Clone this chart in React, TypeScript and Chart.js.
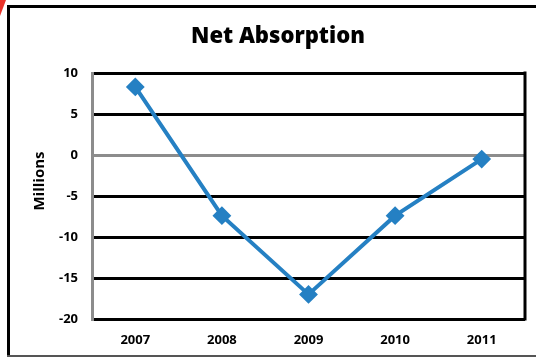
import React, { useEffect, useRef } from "react";
import { Chart, registerables } from "chart.js";

Chart.register(...registerables);

const categories = ["2007", "2008", "2009", "2010", "2011"];
const netAbsorption = [8.3, -7.4, -17, -7.4, -0.5];
const yMin = -20;
const yMax = 10;
const yStep = 5;
const titleText = "Net Absorption";
const yAxisTitle = "Millions";

const FONT = "'Open Sans', Lato, 'DejaVu Sans', sans-serif";
const BLUE = "#2580C3";

const framePlugin = {
  id: "frame",
  afterDraw(chart: any) {
    const { ctx, chartArea } = chart;
    ctx.save();
    // plot area right border
    ctx.strokeStyle = "#000";
    ctx.lineWidth = 3;
    ctx.beginPath();
    ctx.moveTo(chartArea.right, chartArea.top - 1.5);
    ctx.lineTo(chartArea.right, chartArea.bottom + 1.5);
    ctx.stroke();
    // outer frame
    ctx.fillStyle = "#000";
    ctx.fillRect(7, 5, 3, 352);
    ctx.fillRect(7, 5, 529, 3);
    ctx.fillStyle = "#555";
    ctx.fillRect(7, 355, 529, 2);
    // red corner mark
    ctx.fillStyle = "#e8332a";
    ctx.beginPath();
    ctx.moveTo(0, 0);
    ctx.lineTo(6, 0);
    ctx.lineTo(0, 16);
    ctx.closePath();
    ctx.fill();
    // y axis title
    ctx.translate(40, 181);
    ctx.rotate(-Math.PI / 2);
    ctx.fillStyle = "#000";
    ctx.font = `bold 15px ${FONT}`;
    ctx.textAlign = "center";
    ctx.textBaseline = "middle";
    ctx.fillText(yAxisTitle, 0, 0);
    ctx.restore();
  },
};

export default function App() {
  const ref = useRef<HTMLCanvasElement | null>(null);
  useEffect(() => {
    if (!ref.current) return;
    const chart = new Chart(ref.current, {
      type: "line",
      data: {
        labels: categories,
        datasets: [
          {
            data: netAbsorption,
            borderColor: BLUE,
            backgroundColor: BLUE,
            borderWidth: 4,
            pointStyle: "rectRot",
            pointRadius: 8,
            pointBorderWidth: 2,
            pointBorderColor: BLUE,
            pointBackgroundColor: BLUE,
            tension: 0,
            fill: false,
          },
        ],
      },
      options: {
        responsive: false,
        animation: false,
        layout: { padding: { left: 31, right: 11, top: 0, bottom: 0 } },
        plugins: {
          legend: { display: false },
          tooltip: { enabled: false },
          title: {
            display: true,
            text: titleText,
            color: "#000",
            font: { family: FONT, size: 22, weight: 800 },
            padding: { top: 24, bottom: 22.6 },
          },
        },
        scales: {
          x: {
            offset: true,
            grid: { display: false, drawTicks: false },
            border: { display: false },
            ticks: {
              color: "#000",
              font: { family: FONT, size: 13, weight: "bold" },
              padding: 13,
              maxRotation: 0,
            },
            afterFit: (s: any) => {
              s.height = 39;
            },
          },
          y: {
            min: yMin,
            max: yMax,
            grid: {
              drawTicks: false,
              lineWidth: 3,
              color: (c: any) => (c.tick && c.tick.value === 0 ? "#8c8c8c" : "#000"),
            },
            border: { display: true, color: "#8c8c8c", width: 3 },
            ticks: {
              stepSize: yStep,
              color: "#000",
              font: { family: FONT, size: 13, weight: "bold" },
              padding: 14,
            },
            afterFit: (s: any) => {
              s.width = 61;
            },
          },
        },
      },
      plugins: [framePlugin],
    });
    return () => chart.destroy();
  }, []);
  return (
    <div style={{ position: "fixed", left: 0, top: 0, width: 536, height: 358, background: "#fff" }}>
      <canvas ref={ref} width={536} height={358} style={{ display: "block", width: 536, height: 358 }} />
    </div>
  );
}
